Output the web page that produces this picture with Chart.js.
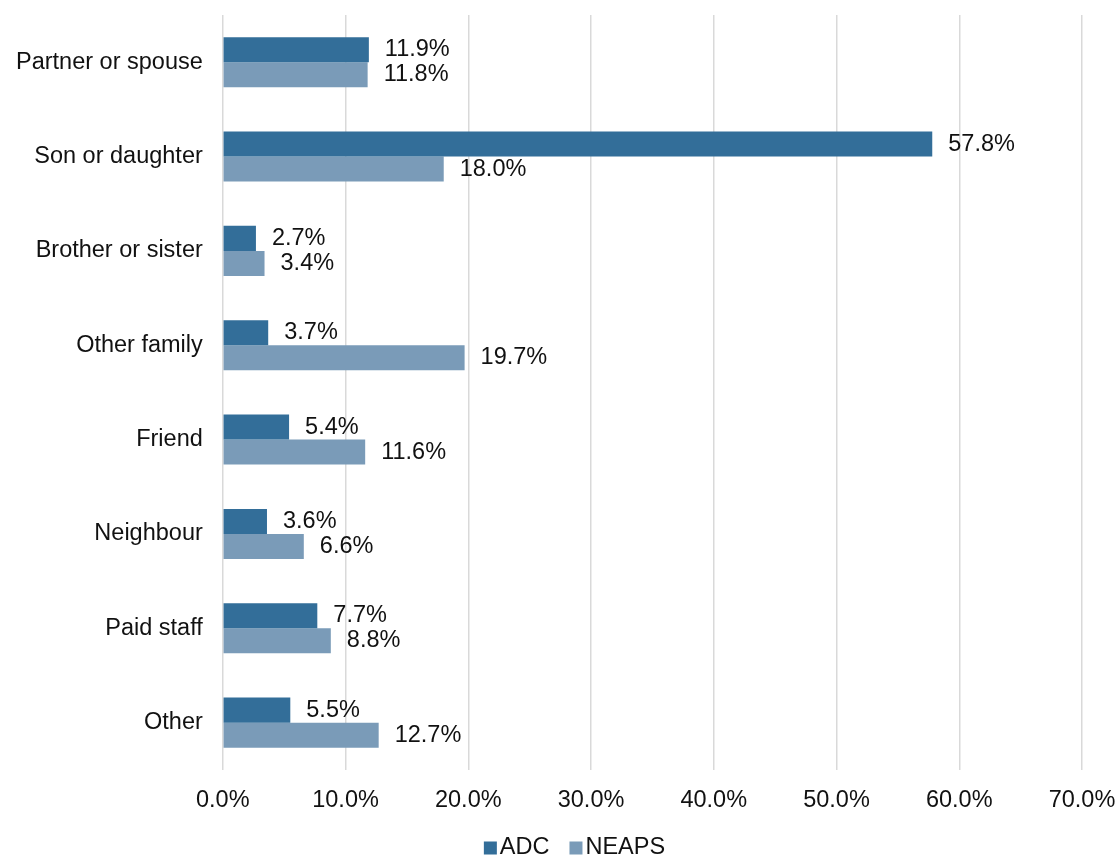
<!DOCTYPE html>
<html>
<head>
<meta charset="utf-8">
<script src="https://cdn.jsdelivr.net/npm/chart.js@4"></script>
<style>
body { margin: 0; background: #fff; }
#box { width: 1119px; height: 860px; }
</style>
</head>
<body>
<div id="box"><canvas id="chart"></canvas></div>
<script>
// ----------------------------------------------------------------------
const categories = ["Partner or spouse", "Son or daughter", "Brother or sister",
	"Other family", "Friend", "Neighbour", "Paid staff", "Other"]
const adc_values = [11.9, 57.8, 2.7, 3.7, 5.4, 3.6, 7.7, 5.5]
const neaps_values = [11.8, 18.0, 3.4, 19.7, 11.6, 6.6, 8.8, 12.7]
const series_names = ["ADC", "NEAPS"]

const font_css = "23.5px 'Liberation Sans', Arial, sans-serif"

// ----------------------------------------------------------------------
const value_labels = {
	id: 'value_labels',
	afterDatasetsDraw (chart)
	{
		const ctx = chart.ctx
		ctx.save()
		ctx.font = font_css
		ctx.fillStyle = "#111"
		ctx.textAlign = "left"
		ctx.textBaseline = "middle"
		chart.data.datasets.forEach (function (ds, di)
			{
			const meta = chart.getDatasetMeta(di)
			meta.data.forEach (function (bar, it)
				{
				ctx.fillText (ds.data[it].toFixed(1) + "%", bar.x + 16, bar.y)
				})
			})
		ctx.restore()
	}
}

// excel style legend: small square, text right next to it
const bottom_legend = {
	id: 'bottom_legend',
	afterDraw (chart)
	{
		const ctx = chart.ctx
		const box = 13
		const gap_text = 3
		const gap_item = 20
		const yy = chart.height - 12
		ctx.save()
		ctx.font = font_css
		ctx.textAlign = "left"
		ctx.textBaseline = "middle"
		const items = chart.data.datasets.map (function (ds)
			{
			return { text: ds.label, color: ds.backgroundColor,
				ww: box + gap_text + ctx.measureText(ds.label).width }
			})
		var total = 0
		items.forEach (function (it) { total += it.ww })
		total += gap_item * (items.length - 1)
		var xx = chart.width / 2 + 15 - total / 2
		items.forEach (function (it)
			{
			ctx.fillStyle = it.color
			ctx.fillRect (xx, yy - box / 2, box, box)
			ctx.fillStyle = "#111"
			ctx.fillText (it.text, xx + box + gap_text, yy)
			xx += it.ww + gap_item
			})
		ctx.restore()
	}
}

// ----------------------------------------------------------------------
function prog01 ()
{
	const font = { family: "'Liberation Sans', Arial, sans-serif", size: 23.5 }

	const graph_data = {
		labels: categories,
		datasets: [
			{ label: series_names[0], data: adc_values, backgroundColor: '#336e99' },
			{ label: series_names[1], data: neaps_values, backgroundColor: '#7a9bb8' }
			]
		}

	const options = {
		indexAxis: 'y',
		responsive: true,
		maintainAspectRatio: false,
		animation: false,
		datasets: { bar: { categoryPercentage: 0.53, barPercentage: 1.0 } },
		layout: { padding: { top: 0, right: 0, left: -4, bottom: 28 } },
		scales: {
			x: {
				min: 0, max: 70,
				afterFit: function (scale) { scale.paddingRight = 37; scale.paddingLeft = 0 },
				ticks: { stepSize: 10, color: '#111', font: font, padding: 17,
					callback: function (v) { return v.toFixed(1) + "%" } },
				grid: { color: '#d9d9d9', lineWidth: 1.5, drawTicks: false },
				border: { display: false }
				},
			y: {
				afterFit: function (scale) { scale.paddingTop = 15; scale.paddingBottom = 0 },
				ticks: { color: '#111', font: font, padding: 20 },
				grid: { display: false, drawTicks: false },
				border: { display: false }
				}
			},
		plugins: {
			legend: { display: false },
			tooltip: { enabled: false }
			}
		}

	const context = document.getElementById("chart")
	new Chart(context, { type: 'bar', data: graph_data, options: options,
		plugins: [value_labels, bottom_legend] })
}

prog01 ()
</script>
</body>
</html>
